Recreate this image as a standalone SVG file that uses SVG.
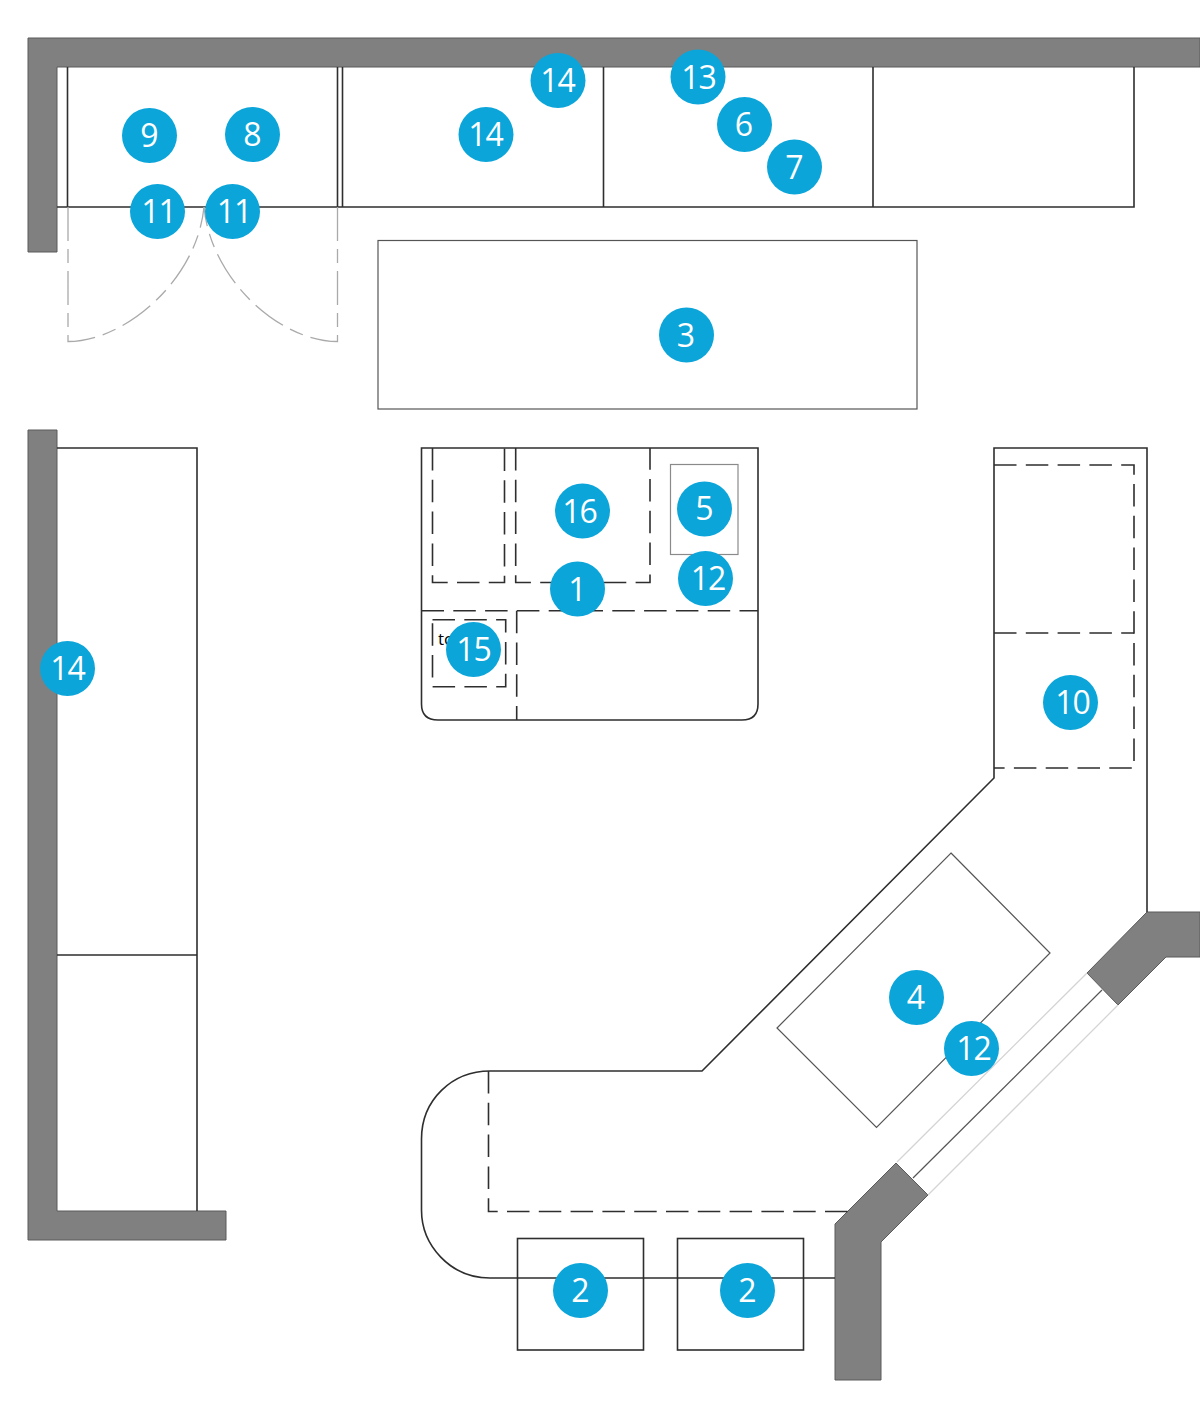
<svg xmlns="http://www.w3.org/2000/svg" width="1200" height="1404" viewBox="0 0 1200 1404">
<style>
.w{fill:#808080;stroke:#5a5a5a;stroke-width:1}
.l{fill:none;stroke:#2e2e2e;stroke-width:1.6}
.t{fill:none;stroke:#555;stroke-width:1.2}
.d{fill:none;stroke:#2e2e2e;stroke-width:1.6;stroke-dasharray:22.500 9.300}
.g{fill:none;stroke:#aaa;stroke-width:1.3;stroke-dasharray:34 8 14 8}
.p{fill:none;stroke:#d4d4d4;stroke-width:1.3}
.c{fill:#0ba5da}
.n{fill:#fff;font-family:"Open Sans","Noto Sans",sans-serif;font-size:32px;text-anchor:middle;letter-spacing:-1px}
</style>
<rect width="1200" height="1404" fill="#fff"/>
<g id="walls">
<path class="w" d="M28 38H1200V67H57V252H28Z"/>
<path class="w" d="M28 430H57V1211H226V1240H28Z"/>
<path class="w" d="M1147 912H1200V957H1166L1118 1005L1087 973Z"/>
<path class="w" d="M896 1163L928 1195L881 1242V1380H835V1224Z"/>
</g>
<g id="window">
<path class="p" d="M897 1162L1087 973M928 1195L1118 1005"/>
<path class="t" d="M913 1178L1102 990"/>
</g>
<g id="upper-cabinets">
<path class="l" d="M57 207H1134V67M67.500 67V207M337.500 67V207M342.500 67V207M603.500 67V207M873 67V207"/>
</g>
<g id="doors">
<path class="g" d="M68 207V341.500C125 341.500 197 280 204 207"/>
<path class="g" d="M337.500 207V341.500C280 341.500 211 280 204 207"/>
</g>
<g id="island"><rect class="t" x="378" y="240.500" width="539" height="168.500"/></g>
<g id="left-cabinet"><path class="l" d="M57 448H197V1211M57 955H197"/></g>
<g id="peninsula">
<path class="l" d="M421.500 448H758V704Q758 720 742 720H438Q421.500 720 421.500 704Z"/>
<path class="d" d="M432.500 448V582.500H504.500V448"/>
<path class="d" d="M515.700 448V582.500H650V448"/>
<path class="d" d="M421.500 610.700H758"/>
<path class="d" d="M516.700 610.700V720"/>
<path class="d" d="M432.500 619.700H505.700V686.700H432.500Z"/>
<rect x="670.500" y="464.500" width="67.500" height="90" fill="none" stroke="#8a8a8a" stroke-width="1.200"/>
<text x="438" y="645" font-family="'Open Sans','Noto Sans',sans-serif" font-size="17" fill="#000">to</text>
</g>
<g id="counter">
<path class="l" d="M835 1278H490C450 1278 421.500 1245 421.500 1210V1139C421.500 1100 452 1071 490 1071H702L994 778V448H1147V912"/>
<path class="d" d="M994 465H1134V768H994"/>
<path class="d" d="M994 633H1134"/>
<path class="d" d="M488.500 1071V1211.500H848"/>
<path class="t" d="M951 853L1050 953L876.500 1127.500L777 1028Z"/>
</g>
<g id="stools">
<rect class="l" x="517.500" y="1238.500" width="126" height="111.500"/>
<rect class="l" x="677.500" y="1238.500" width="126" height="111.500"/>
</g>
<g id="badge-9"><circle class="c" cx="149.500" cy="135.500" r="27.500"/><text class="n" x="149" y="147">9</text></g>
<g id="badge-8"><circle class="c" cx="252.500" cy="134.500" r="27.500"/><text class="n" x="252" y="146">8</text></g>
<g id="badge-11a"><circle class="c" cx="157.500" cy="211.500" r="27.500"/><text class="n" x="158.500" y="223">11</text></g>
<g id="badge-11b"><circle class="c" cx="232.500" cy="211.500" r="27.500"/><text class="n" x="234" y="223">11</text></g>
<g id="badge-14a"><circle class="c" cx="558" cy="80.500" r="27.500"/><text class="n" x="557.500" y="92">14</text></g>
<g id="badge-14b"><circle class="c" cx="486" cy="134.500" r="27.500"/><text class="n" x="485.500" y="146">14</text></g>
<g id="badge-13"><circle class="c" cx="698" cy="77" r="27.500"/><text class="n" x="698.500" y="88.500">13</text></g>
<g id="badge-6"><circle class="c" cx="744.500" cy="124.500" r="27.500"/><text class="n" x="743.500" y="136">6</text></g>
<g id="badge-7"><circle class="c" cx="794.500" cy="167" r="27.500"/><text class="n" x="794" y="178.500">7</text></g>
<g id="badge-3"><circle class="c" cx="686.500" cy="335" r="27.500"/><text class="n" x="685.500" y="346.500">3</text></g>
<g id="badge-16"><circle class="c" cx="582.500" cy="511" r="27.500"/><text class="n" x="579.500" y="522.500">16</text></g>
<g id="badge-5"><circle class="c" cx="704.500" cy="509" r="27.500"/><text class="n" x="704" y="520">5</text></g>
<g id="badge-12a"><circle class="c" cx="705.500" cy="578.500" r="27.500"/><text class="n" x="708" y="590">12</text></g>
<g id="badge-1"><circle class="c" cx="577.500" cy="589" r="27.500"/><text class="n" x="577" y="601">1</text></g>
<g id="badge-15"><circle class="c" cx="473.500" cy="649.500" r="27.500"/><text class="n" x="473.500" y="661">15</text></g>
<g id="badge-14c"><circle class="c" cx="67.500" cy="668.500" r="27.500"/><text class="n" x="67.500" y="680">14</text></g>
<g id="badge-10"><circle class="c" cx="1070.500" cy="702.500" r="27.500"/><text class="n" x="1072.500" y="714">10</text></g>
<g id="badge-4"><circle class="c" cx="916.500" cy="997.500" r="27.500"/><text class="n" x="915.500" y="1009">4</text></g>
<g id="badge-12b"><circle class="c" cx="971.500" cy="1048.500" r="27.500"/><text class="n" x="973.500" y="1060">12</text></g>
<g id="badge-2a"><circle class="c" cx="580.500" cy="1290.500" r="27.500"/><text class="n" x="580" y="1302">2</text></g>
<g id="badge-2b"><circle class="c" cx="747.500" cy="1290.500" r="27.500"/><text class="n" x="747" y="1302">2</text></g>
</svg>
